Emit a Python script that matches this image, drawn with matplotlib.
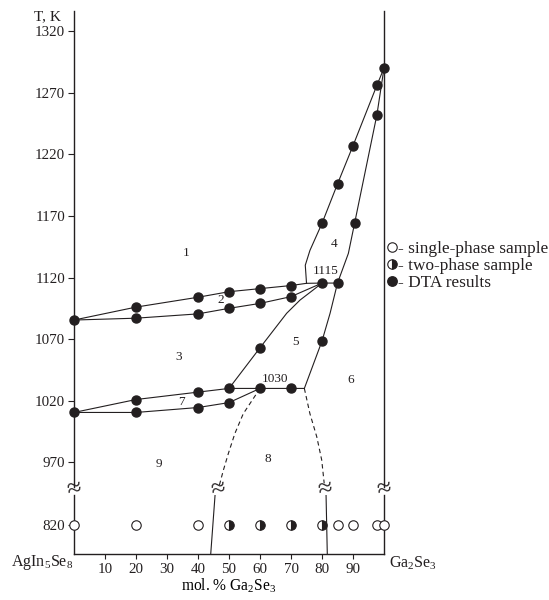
import matplotlib
matplotlib.use("Agg")
import matplotlib.pyplot as plt
import matplotlib.transforms as mtransforms
from matplotlib.lines import Line2D

INK = "#231f20"
plt.rcParams["font.family"] = ["Liberation Serif", "DejaVu Serif"]
plt.rcParams["mathtext.fontset"] = "custom"
plt.rcParams["mathtext.rm"] = "Liberation Serif"
plt.rcParams["mathtext.it"] = "Liberation Serif:italic"
plt.rcParams["text.color"] = INK
plt.rcParams["axes.edgecolor"] = INK
plt.rcParams["xtick.color"] = INK
plt.rcParams["ytick.color"] = INK

# DTA points: composition (mol. % Ga2Se3) and temperature (K)
dta_x = [0, 20, 20, 40, 40, 50, 50, 60, 60, 70, 70, 80, 85,
         0, 20, 20, 40, 40, 50, 50, 60, 70,
         60, 80, 80, 90.5, 85, 90, 97.7, 97.7, 100]
dta_t = [1085.5, 1096, 1087, 1104, 1090.5, 1108.5, 1095, 1111, 1099, 1113.5, 1104.5, 1115.5, 1115.5,
         1010.5, 1021, 1010.5, 1027, 1014.5, 1030, 1018.5, 1030, 1030,
         1063, 1068.5, 1164, 1164, 1196, 1227, 1276, 1252, 1290]

# phase boundaries (upper part of the diagram)
liq_top_x = [0, 20, 40, 50, 60, 70, 75, 80, 85]
liq_top_t = [1085.5, 1096, 1104, 1108.5, 1111, 1113.5, 1115.3, 1115.5, 1115.5]
sol_top_x = [0, 20, 40, 50, 60, 70, 75, 80]
sol_top_t = [1085.5, 1087, 1090.5, 1095, 1099, 1104.5, 1110, 1115.5]
b5_x = [50, 60, 68.6, 72.9, 77.2, 80]
b5_t = [1030, 1063, 1091, 1101.7, 1110, 1115.5]
liq4_x = [75, 74.6, 76.1, 80, 85, 90, 97.7, 100]
liq4_t = [1115.3, 1130, 1142, 1164, 1196, 1227, 1276, 1290]
sol_r_x = [74.3, 80, 82.6, 85, 88.5, 90.5, 97.7, 100]
sol_r_t = [1030, 1068.5, 1091, 1115.5, 1139.6, 1164, 1252, 1290]
eut_top_x = [0, 20, 40, 50, 60, 70, 74.3]
eut_top_t = [1010.5, 1021, 1027, 1030, 1030, 1030, 1030]
eut_bot_x = [0, 20, 40, 50, 60]
eut_bot_t = [1010.5, 1010.5, 1014.5, 1018.5, 1030]
dash_l_x = [60, 54.6, 51.9, 49.8, 48.2, 46.9]
dash_l_t = [1030, 1009.5, 993.5, 977.3, 963.8, 951.6]
dash_r_x = [74.3, 76.1, 78.3, 79.9, 80.7]
dash_r_t = [1030, 1009.5, 990.8, 971.9, 953]

# lower part (annealing at 820 K)
low_l_x = [45.5, 44.1]
low_r_x = [81.3, 81.7]
low_t = [844.4, 796.5]
anneal_t = 820
single_x = [0, 20, 40, 85, 90, 97.7, 100]
two_x = [50, 60, 70, 80]

region_txt = ["1", "2", "3", "4", "5", "6", "7", "8", "9", "1115", "1030"]
region_x = [36.3, 47.3, 33.9, 84, 71.6, 89.4, 34.5, 62.4, 27.5, 81.2, 64.8]
region_t = [1139.6, 1101.7, 1055.2, 1147, 1068, 1036.8, 1019.2, 972.4, 968.6, 1125.4, 1037.4]

break_x = [0, 46.6, 81, 100]
up_ticks = [970, 1020, 1070, 1120, 1170, 1220, 1270, 1320]
x_ticks = [10, 20, 30, 40, 50, 60, 70, 80, 90]

fig = plt.figure(figsize=(5.49, 6.0), dpi=100)
ax_up = fig.add_axes([0.1348, 0.18833, 0.5647, 0.79333])
ax_lo = fig.add_axes([0.1348, 0.07667, 0.5647, 0.09833])

line_kw = dict(color=INK, lw=0.8)
for xs, ts in [(liq_top_x, liq_top_t), (sol_top_x, sol_top_t), (b5_x, b5_t),
               (liq4_x, liq4_t), (sol_r_x, sol_r_t), (eut_top_x, eut_top_t),
               (eut_bot_x, eut_bot_t)]:
    ax_up.plot(xs, ts, **line_kw)
ax_up.plot(dash_l_x, dash_l_t, ls=(0, (4, 3)), **line_kw)
ax_up.plot(dash_r_x, dash_r_t, ls=(0, (4, 3)), **line_kw)
ax_up.plot(dta_x, dta_t, "o", ms=6.5, mfc=INK, mec=INK, clip_on=False, zorder=5)

for s, x, t in zip(region_txt, region_x, region_t):
    ax_up.text(x, t, s, fontsize=9.5, ha="center", va="center")

ax_lo.plot(low_l_x, low_t, **line_kw)
ax_lo.plot(low_r_x, low_t, **line_kw)
ax_lo.plot(single_x, [anneal_t] * len(single_x), "o", ms=6.8, mfc="white", mec=INK,
           mew=0.8, clip_on=False, zorder=5)
ax_lo.plot(two_x, [anneal_t] * len(two_x), "o", ms=6.8, fillstyle="right", mfc=INK,
           mfcalt="white", mec=INK, mew=0.8, clip_on=False, zorder=5)

ax_up.set_xlim(0, 100)
ax_lo.set_xlim(0, 100)
ax_up.set_ylim(950, 1336.3)
ax_lo.set_ylim(796.5, 844.4)

for ax in (ax_up, ax_lo):
    ax.spines["top"].set_visible(False)
    ax.spines["left"].set_linewidth(1.0)
    ax.spines["right"].set_linewidth(1.0)
    ax.tick_params(axis="y", direction="out", length=4.3, width=0.8, pad=2.2, labelsize=10.8)
ax_up.spines["bottom"].set_visible(False)
ax_lo.spines["bottom"].set_linewidth(1.0)
ax_up.set_xticks([])
ax_up.set_yticks(up_ticks)
ax_lo.set_yticks([anneal_t])
ax_lo.set_xticks(x_ticks)
ax_lo.tick_params(axis="x", direction="out", length=3.6, width=0.8, pad=3, labelsize=10.8)
ax_lo.set_xlabel("mol. % Ga$_2$Se$_3$", fontsize=11.2, labelpad=0)

# axis break marks
trans = mtransforms.blended_transform_factory(ax_lo.transData, ax_lo.transAxes)
for bx in break_x:
    ax_lo.text(bx, 1.09, "≈", transform=trans, fontsize=19, ha="center", va="center",
               rotation=10, clip_on=False)

fig.text(61 / 549, 1 - 17 / 600, "T, K", fontsize=11, ha="right", va="center")
fig.text(73 / 549, 1 - 563 / 600, "AgIn$_5$Se$_8$", fontsize=11.5, ha="right", va="center")
fig.text(389 / 549, 1 - 563 / 600, "Ga$_2$Se$_3$", fontsize=11.5, ha="left", va="center")

handles = [
    Line2D([], [], ls="", marker="o", ms=6.8, mfc="white", mec=INK, mew=0.8),
    Line2D([], [], ls="", marker="o", ms=6.8, fillstyle="right", mfc=INK,
           mfcalt="white", mec=INK, mew=0.8),
    Line2D([], [], ls="", marker="o", ms=6.8, mfc=INK, mec=INK),
]
labels = ["- single-phase sample", "- two-phase sample", "- DTA results"]
fig.legend(handles, labels, loc="center left", bbox_to_anchor=(388 / 549, 1 - 266 / 600),
           frameon=False, fontsize=12.4, handlelength=0.5, handletextpad=0.1,
           labelspacing=0.05, borderpad=0, borderaxespad=0)

fig.savefig("out.png", dpi=100)
